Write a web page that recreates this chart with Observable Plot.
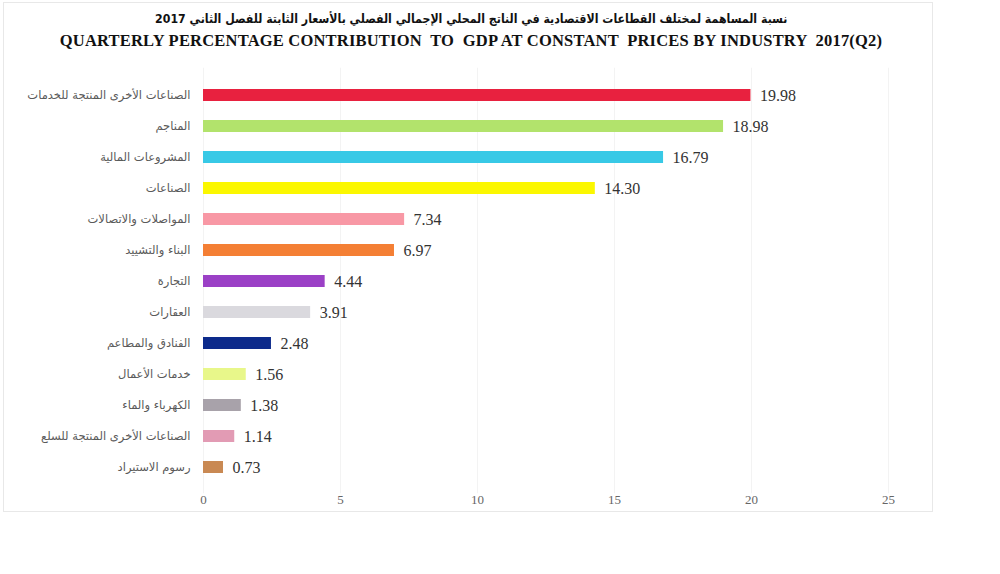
<!DOCTYPE html>
<html>
<head>
<meta charset="utf-8">
<script src="https://cdn.jsdelivr.net/npm/d3@7"></script>
<script src="https://cdn.jsdelivr.net/npm/@observablehq/plot@0.6"></script>
<style>
  html, body { margin: 0; padding: 0; background: #fff; }
  #frame {
    position: absolute; left: 3px; top: 2px; width: 930px; height: 510px;
    border: 1px solid #e8e8e8; box-sizing: border-box;
  }
  #titles {
    position: absolute; left: 0; top: 0; width: 942px; height: 55px;
    text-align: center; font-family: "Liberation Serif", "DejaVu Serif", serif;
    font-weight: bold; color: #111;
  }
  #t1 { position: absolute; left: 0; right: 0; top: 11px; font-size: 12.5px; font-family: "DejaVu Sans", sans-serif; }
  #t1 span { display: inline-block; direction: rtl; transform: scaleX(0.88); transform-origin: center; }
  #t2 { position: absolute; left: 0; right: 0; top: 31px; font-size: 16.5px; letter-spacing: 0.2px; white-space: pre; }
  #chart { position: absolute; left: 0; top: 55px; }
</style>
</head>
<body>
<div id="frame"></div>
<div id="titles">
  <div id="t1"><span>نسبة المساهمة لمختلف القطاعات الاقتصادية في الناتج المحلي الإجمالي الفصلي  بالأسعار الثابتة  للفصل الثاني  2017</span></div>
  <div id="t2">QUARTERLY PERCENTAGE CONTRIBUTION  TO  GDP AT CONSTANT  PRICES BY INDUSTRY  2017(Q2)</div>
</div>
<div id="chart"></div>
<script>
// Industry names (Arabic), their share of GDP (%), and bar colours
const industries = [
  "الصناعات الأخرى المنتجة للخدمات",
  "المناجم",
  "المشروعات المالية",
  "الصناعات",
  "المواصلات والاتصالات",
  "البناء والتشييد",
  "التجارة",
  "العقارات",
  "الفنادق والمطاعم",
  "خدمات الأعمال",
  "الكهرباء والماء",
  "الصناعات الأخرى المنتجة للسلع",
  "رسوم الاستيراد"
];
const shares = [19.98, 18.98, 16.79, 14.30, 7.34, 6.97, 4.44, 3.91, 2.48, 1.56, 1.38, 1.14, 0.73];
const colors = ["#e8213f", "#b2e36c", "#38c9e6", "#fbf700", "#f898a5", "#f47f34",
                "#9b40c6", "#dad9de", "#0c2a8b", "#e8f78a", "#a8a2aa", "#e29bb4", "#c98953"];
const xTicks = [0, 5, 10, 15, 20, 25];

const rows = industries.map((name, i) => ({name, value: shares[i], color: colors[i]}));

const chart = Plot.plot({
  width: 1000,
  height: 470,
  marginLeft: 203,
  marginRight: 112,
  marginTop: 12.75,
  marginBottom: 31.75,
  x: {domain: [0, 25], ticks: xTicks},
  y: {domain: industries, padding: 0.616},
  style: {background: "transparent"},
  marks: [
    Plot.ruleX(xTicks, {stroke: "#f3f3f3", strokeWidth: 1}),
    Plot.barX(rows, {x: "value", y: "name", fill: "color"}),
    Plot.text(rows, {
      x: "value", y: "name", text: d => d.value.toFixed(2),
      textAnchor: "start", dx: 9, fontSize: 16, fill: "#333",
      fontFamily: "Liberation Serif, DejaVu Serif, serif"
    }),
    Plot.axisY({
      tickSize: 0, tickPadding: 13, label: null,
      fontSize: 11.5, fill: "#5a5a5a", fontFamily: "DejaVu Sans, sans-serif"
    }),
    Plot.axisX({
      ticks: xTicks, tickSize: 0, tickPadding: 1, label: null,
      fontSize: 13, fill: "#666", fontFamily: "Liberation Serif, DejaVu Serif, serif"
    })
  ]
});
document.getElementById("chart").appendChild(chart);
</script>
</body>
</html>
